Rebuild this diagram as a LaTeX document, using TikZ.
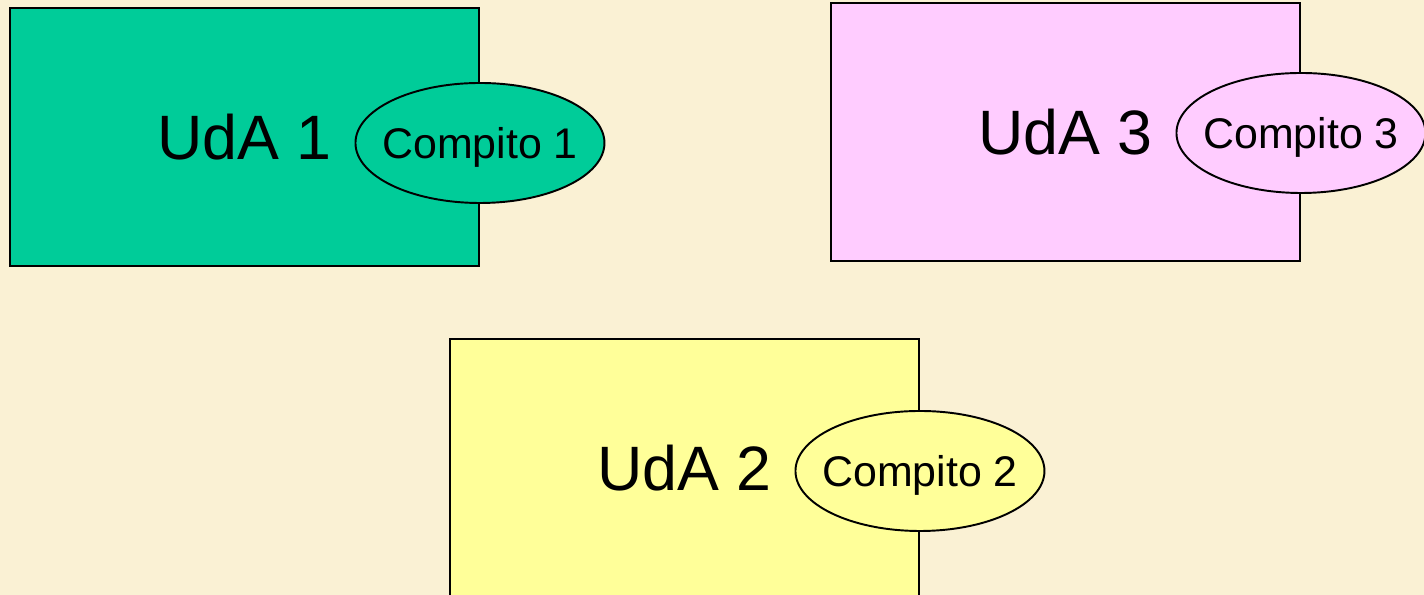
\documentclass[tikz,border=0pt]{standalone}
\usepackage{fontspec}
\setmainfont{Liberation Sans}
\usetikzlibrary{shapes.geometric,positioning}
\definecolor{paper}{RGB}{250,241,212}
\definecolor{udagreen}{RGB}{0,204,153}
\definecolor{udapink}{RGB}{255,204,255}
\definecolor{udayellow}{RGB}{255,255,153}
\tikzset{every node/.style={ % Sets the properties for each node
            draw=black,
            line width=1.1pt},
        uda/.style={ % Learning unit boxes
            rectangle,
            minimum width=9.38cm,
            minimum height=5.16cm,
            font=\fontsize{35.7}{40}\selectfont},
        compito/.style={ % Task ellipses on the right edge
            ellipse,
            inner xsep=-2cm, % Lets the text run close to the rim
            inner ysep=0pt,
            text depth=0pt,
            minimum width=4.98cm,
            minimum height=2.4cm,
            font=\fontsize{24.4}{28}\selectfont}
        }

\begin{document}
\begin{tikzpicture}
    \clip (0,0) rectangle (28.48,11.9);
    \fill[paper] (0,0) rectangle (28.48,11.9);

    \node[uda, fill=udagreen] (uda1) at (4.89,9.16) {UdA 1};
    \node[uda, fill=udapink] (uda3) at (21.31,9.26) {UdA 3};
    \node[uda, fill=udayellow] (uda2) at (13.69,2.54) {UdA 2};

    \node[compito, fill=udagreen] (comp1) at ([yshift=-1.2mm]uda1.east) {Compito 1};
    \node[compito, fill=udapink] (comp3) at ([yshift=-0.2mm]uda3.east) {Compito 3};
    \node[compito, fill=udayellow] (comp2) at ([yshift=-0.6mm]uda2.east) {Compito 2};
\end{tikzpicture}
\end{document}
